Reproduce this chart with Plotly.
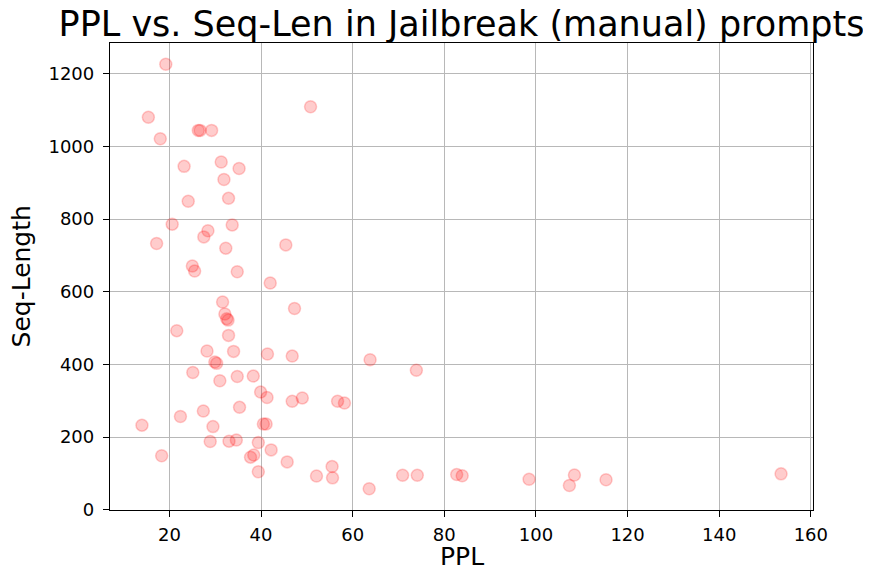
import plotly.graph_objects as go

# ---------- data ----------
ppl = [
    19.2, 15.4, 18.0, 26.3, 26.7, 29.2, 50.8,
    31.3, 23.2, 35.2, 31.9, 24.1, 32.9, 20.6, 33.7, 28.4, 27.5, 17.2, 32.3, 45.4,
    25.0, 25.5, 34.8, 42.0, 31.6, 47.3, 32.1, 32.5, 32.8, 21.6, 32.9,
    28.2, 34.0, 41.4, 46.8, 29.9, 30.3, 25.1, 31.0, 34.8, 38.3,
    39.9, 41.3, 46.8, 49.0, 56.7, 58.2, 22.4, 27.4, 35.3, 14.0, 29.5, 40.5, 41.1,
    18.3, 28.9, 33.0, 34.6, 39.4, 42.2, 37.7, 38.4, 39.4, 45.7, 55.5, 52.1, 55.6, 63.6,
    63.8, 73.9, 70.9, 74.1, 82.7, 83.9, 98.5, 108.4, 107.3, 115.3, 153.5,
]
seq_len = [
    1226, 1080, 1021, 1044, 1044, 1044, 1109,
    957, 945, 939, 909, 849, 857, 786, 784, 768, 751, 733, 720, 729,
    671, 657, 655, 624, 572, 554, 539, 526, 522, 493, 480,
    437, 436, 429, 423, 407, 403, 378, 355, 367, 368,
    324, 309, 299, 308, 299, 294, 257, 272, 282, 233, 229, 236, 236,
    149, 188, 189, 192, 185, 165, 145, 151, 105, 132, 119, 93, 88, 58,
    413, 384, 95, 95, 97, 94, 84, 96, 67, 83, 99,
]

FONT = "DejaVu Sans"


def pad_range(vals, frac=0.05):
    lo, hi = min(vals), max(vals)
    m = (hi - lo) * frac
    return [lo - m, hi + m]


fig = go.Figure(
    go.Scatter(
        x=ppl, y=seq_len, mode="markers",
        marker=dict(size=12, color="rgba(255,0,0,0.2)",
                    line=dict(color="rgba(255,0,0,0.2)", width=1.5)),
        hoverinfo="x+y",
    )
)

axis_common = dict(
    showgrid=True, gridcolor="#b8b8b8", gridwidth=1.3,
    showline=True, linecolor="black", linewidth=1.3, mirror=True,
    ticks="outside", ticklen=6, tickwidth=1.3, tickcolor="black",
    zeroline=False, automargin=False,
    tickfont=dict(family=FONT, size=18, color="black"),
)

# the page body adds an 8px margin, so the figure is sized to the visible area
fig.update_layout(
    width=863, height=563,
    margin=dict(l=102, r=58, t=35, b=61),
    paper_bgcolor="white", plot_bgcolor="white",
    showlegend=False,
    title=dict(text="PPL vs. Seq-Len in Jailbreak (manual) prompts",
               font=dict(family=FONT, size=35, color="black"),
               x=0.5255, xanchor="center", y=0.972, yanchor="middle"),
    xaxis=dict(axis_common, range=pad_range(ppl), tickvals=[20, 40, 60, 80, 100, 120, 140, 160],
               ticklabelstandoff=2),
    yaxis=dict(axis_common, range=pad_range(seq_len), tickvals=[0, 200, 400, 600, 800, 1000, 1200],
               ticklabelstandoff=5),
    annotations=[
        dict(text="PPL", xref="paper", yref="paper", x=0.5, y=-0.1006,
             xanchor="center", yanchor="middle", showarrow=False,
             font=dict(family=FONT, size=25, color="black")),
        dict(text="Seq-Length", xref="paper", yref="paper", x=-0.1252, y=0.5,
             xanchor="center", yanchor="middle", showarrow=False, textangle=-90,
             font=dict(family=FONT, size=25, color="black")),
    ],
)

fig.write_html("out.html")
